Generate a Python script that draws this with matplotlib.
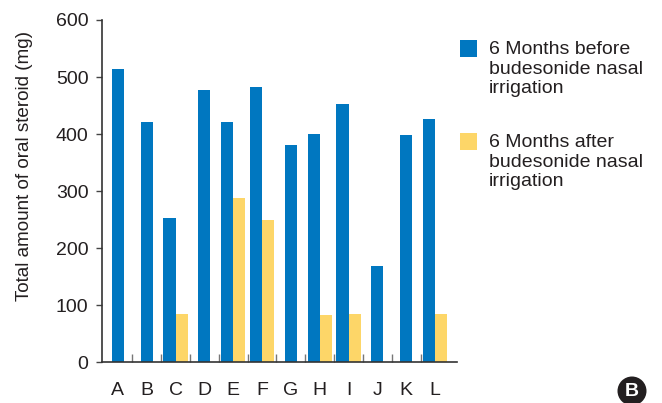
import matplotlib
matplotlib.use("Agg")
import matplotlib.pyplot as plt
from matplotlib.patches import Rectangle, Circle
import numpy as np

plt.rcParams['font.family'] = ['Liberation Sans', 'DejaVu Sans']

patients = ["A", "B", "C", "D", "E", "F", "G", "H", "I", "J", "K", "L"]
before = [514, 421, 253, 477, 421, 482, 381, 400, 453, 169, 398, 426]
after = [0, 0, 85, 0, 288, 249, 0, 83, 85, 0, 0, 85]
label_before = "6 Months before\nbudesonide nasal\nirrigation"
label_after = "6 Months after\nbudesonide nasal\nirrigation"

c_before = "#0077c0"
c_after = "#fdd668"
txt = "#231f20"

fig = plt.figure(figsize=(6.62, 4.03), dpi=100)
ax = fig.add_axes([102.3 / 662, 1 - 362.3 / 403, (456.7 - 102.3) / 662, (362.3 - 20) / 403])

w = 0.42
x = np.arange(len(patients))
for i, (b, a) in enumerate(zip(before, after)):
    if a > 0:
        ax.bar(x[i] - w / 2, b, width=w, color=c_before, linewidth=0)
        ax.bar(x[i] + w / 2, a, width=w, color=c_after, linewidth=0)
    else:
        ax.bar(x[i], b, width=w, color=c_before, linewidth=0)

ax.set_xlim(-0.54, 11.75)
ax.set_ylim(0, 600)
ax.set_yticks([0, 100, 200, 300, 400, 500, 600])
ax.set_xticks(x)
ax.set_xticklabels(patients)
ax.set_xticks(np.arange(0.5, 11, 1), minor=True)
ax.tick_params(axis='x', which='major', length=0, pad=14, labelsize=14, labelcolor=txt)
ax.tick_params(axis='x', which='minor', direction='in', length=6, width=1, color='#777777')
ax.tick_params(axis='y', which='major', length=4, width=1, color='#444444', pad=6,
               labelsize=14, labelcolor=txt)
for s in ['top', 'right']:
    ax.spines[s].set_visible(False)
for s in ['left', 'bottom']:
    ax.spines[s].set_color('#333333')
    ax.spines[s].set_linewidth(1.2)
ax.set_ylabel("Total amount of oral steroid (mg)", fontsize=13.6, color=txt)
ax.yaxis.set_label_coords((33 - 102.3) / 354.4, (362.3 - 166) / 342.3)

# legend drawn manually
def fx(px):
    return px / 662
def fy(py):
    return 1 - py / 403

for (col, lab, ytop) in [(c_before, label_before, 40), (c_after, label_after, 133)]:
    fig.add_artist(Rectangle((fx(460), fy(ytop + 17)), 17 / 662, 17 / 403,
                             transform=fig.transFigure, color=col, linewidth=0))
    fig.text(fx(489), fy(ytop + 1), lab, fontsize=14, color=txt, va='top', ha='left',
             linespacing=1.2)

# panel badge
fig.add_artist(Circle((632 / 100, (403 - 391) / 100), 0.145, transform=fig.dpi_scale_trans,
                      color='#231f20', linewidth=0))
fig.text(fx(632), fy(391), "B", fontsize=14, fontweight='bold', color='white',
         ha='center', va='center')

fig.savefig("out.png", dpi=100)
